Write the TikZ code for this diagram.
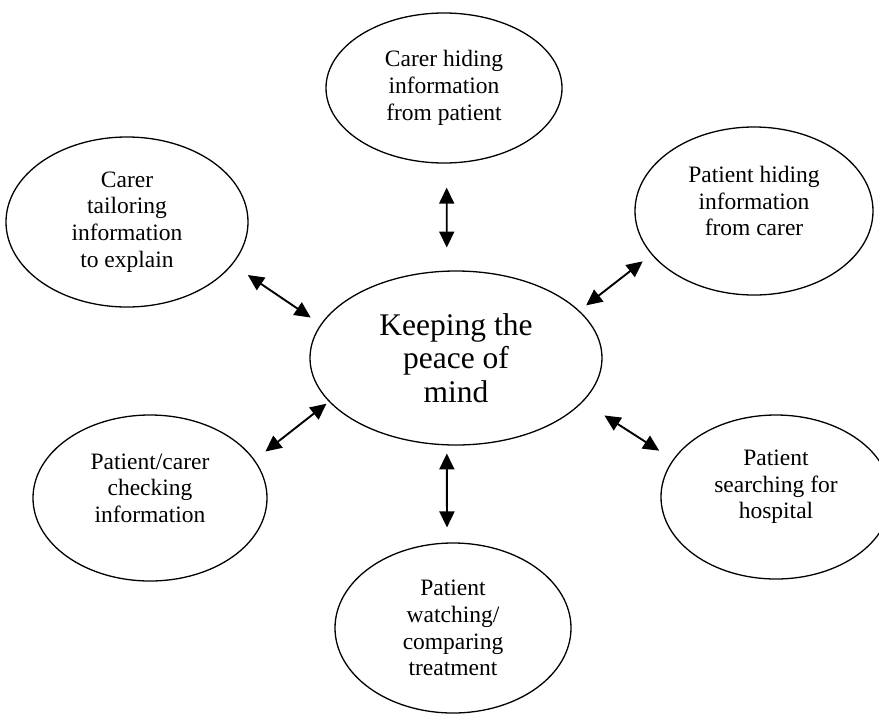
\documentclass[tikz,border=0pt]{standalone}
\usepackage{fontspec}
\setmainfont{Liberation Serif}
\usetikzlibrary{shapes.geometric,arrows.meta}

\tikzset{
	bubble/.style={draw, ellipse, line width=1.3pt, inner sep=0pt, align=center, font=\fontsize{23.5}{26.7}\selectfont},
	hub/.style={bubble, font=\fontsize{31.5}{33.5}\selectfont},
	lift/.style={text depth=#1},
	twoway/.style={{Triangle[length=16pt,width=15pt]}-{Triangle[length=16pt,width=15pt]}, line width=1.9pt},
}

\begin{document}
\begin{tikzpicture}[x=1pt,y=1pt,yscale=-1]
	\useasboundingbox (0,0) rectangle (879,713);

	% centre
	\node[hub, minimum width=292pt, minimum height=174pt] (mind) at (456,358) {Keeping the\\peace of\\mind};

	% around it
	\node[bubble, minimum width=236pt, minimum height=150pt] (carerhide) at (444,88) {Carer hiding\\information\\from patient};
	\node[bubble, minimum width=242pt, minimum height=170pt] (tailor) at (127,222) {Carer\\tailoring\\information\\to explain};
	\node[bubble, lift=20pt, minimum width=238pt, minimum height=168pt] (patienthide) at (754,211) {Patient hiding\\information\\from carer};
	\node[bubble, lift=20pt, minimum width=234pt, minimum height=166pt] (check) at (150,498) {Patient/carer\\checking\\information};
	\node[bubble, lift=25pt, minimum width=230pt, minimum height=164pt] (search) at (776,497) {Patient\\searching for\\hospital};
	\node[bubble, minimum width=236pt, minimum height=170pt] (watch) at (453,628) {Patient\\watching/\\comparing\\treatment};

	% double arrows
	\draw[twoway, shorten <=24pt, shorten >=23pt] (carerhide.-88) -- (mind.96);
	\draw[twoway, shorten <=18.5pt, shorten >=12pt] (tailor.-22) -- (mind.166);
	\draw[twoway, shorten <=11pt, shorten >=8.6pt] (patienthide.203) -- (mind.21);
	\draw[twoway, shorten <=13.6pt, shorten >=3.2pt] (check.20) -- (mind.199);
	\draw[twoway, shorten <=25.4pt, shorten >=16.3pt] (mind.-19.5) -- (search.160);
	\draw[twoway, shorten <=8pt, shorten >=15pt] (mind.-96) -- (watch.94);

\end{tikzpicture}
\end{document}
